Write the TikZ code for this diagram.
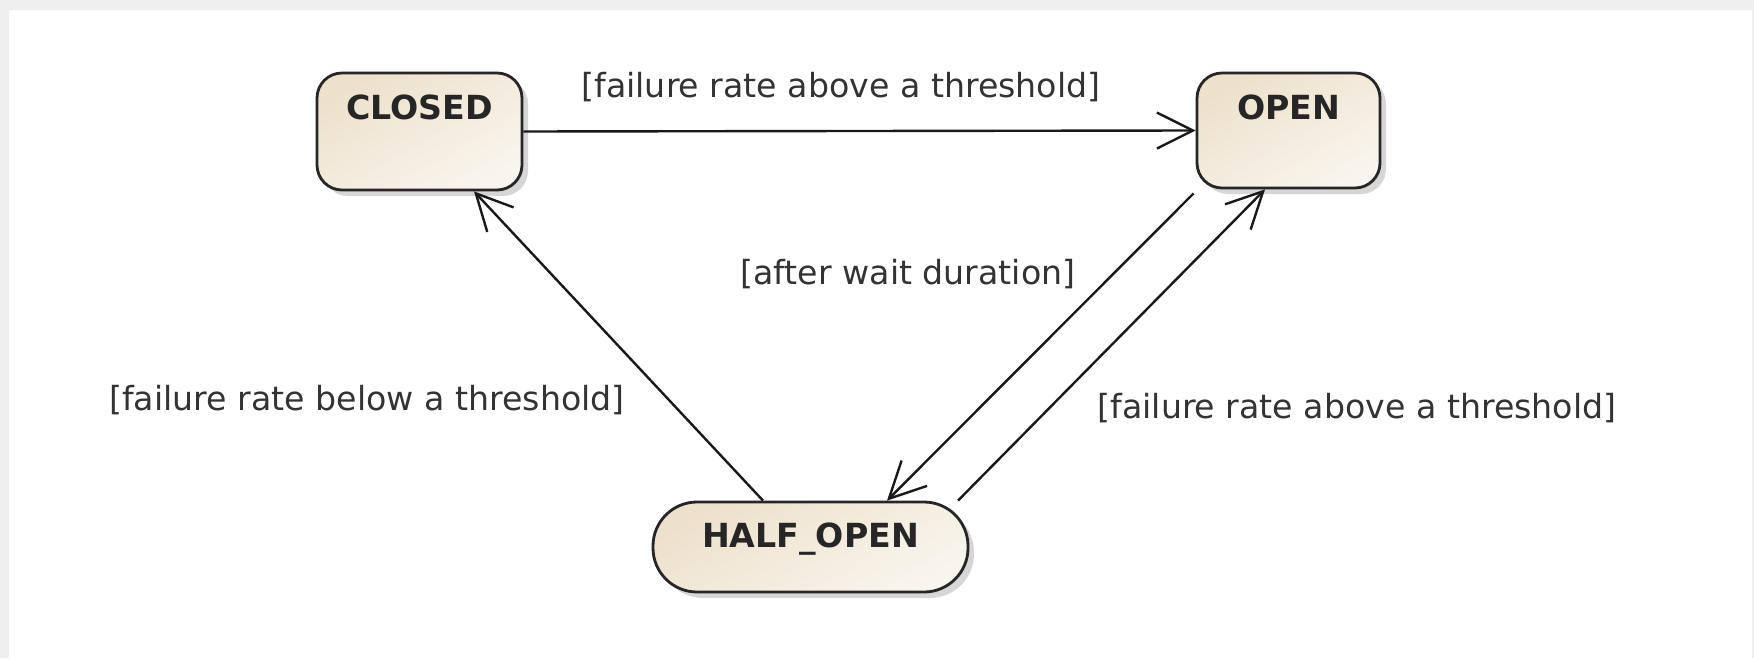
\documentclass[tikz,border=0pt]{standalone}
\usepackage{fontspec}
\setmainfont{DejaVu Sans}
\usetikzlibrary{arrows.meta,shadows}
\definecolor{statefill}{HTML}{EDE1CC}
\definecolor{pagegray}{HTML}{EFEFEF}

\begin{document}
\begin{tikzpicture}[x=0.5pt, y=-0.5pt,
        state/.style={draw=black!85, line width=1.4pt, inner sep=0pt,
                top color=statefill, bottom color=statefill!35!white, shading angle=30,
                drop shadow={shadow xshift=3pt, shadow yshift=-3pt, fill=black!35, opacity=0.45},
                font=\fontsize{16.6}{20}\selectfont\bfseries, text=black!85, text height=12.3pt},
        trans/.style={draw=black!90, line width=1.2pt,
                -{Straight Barb[length=18pt, width=18pt, line width=1.2pt]}},
        guard/.style={font=\fontsize{16.6}{20}\selectfont, text=black!80, inner sep=0pt}]
        \useasboundingbox (0, 0) rectangle (1754, 658);
        \fill[pagegray] (0, 0) rectangle (1754, 658);
        \fill[white] (9, 10) rectangle (1752, 658);

        % states
        \node[state, minimum width=102.5pt, minimum height=58.5pt, rounded corners=12.5pt,
                text depth=24pt] (closed) at (419.5, 131.5) {CLOSED};
        \node[state, minimum width=91.5pt, minimum height=57.5pt, rounded corners=12.5pt,
                text depth=23pt] (open) at (1288.5, 130.5) {OPEN};
        \node[state, minimum width=157.5pt, minimum height=45pt, rounded corners=22pt,
                text depth=12pt] (half) at (810.5, 547) {HALF\_OPEN};

        % transitions
        \draw[trans] (closed.east) -- (open.west);
        \draw[trans] ([xshift=-23.75pt]half.north) -- ([xshift=27.25pt]closed.south);
        \draw[trans] ([shift={(-1pt,-2pt)}]open.south west) -- ([xshift=38.25pt]half.north);
        \draw[trans] ([xshift=73.75pt]half.north) -- ([xshift=-11.75pt]open.south);

        % guards
        \node[guard] (aboveTop) at (841, 87) {[failure rate above a threshold]};
        \node[guard] (below) at (367, 400) {[failure rate below a threshold]};
        \node[guard] (wait) at (908, 274) {[after wait duration]};
        \node[guard] (aboveRight) at (1357, 408) {[failure rate above a threshold]};
\end{tikzpicture}
\end{document}
